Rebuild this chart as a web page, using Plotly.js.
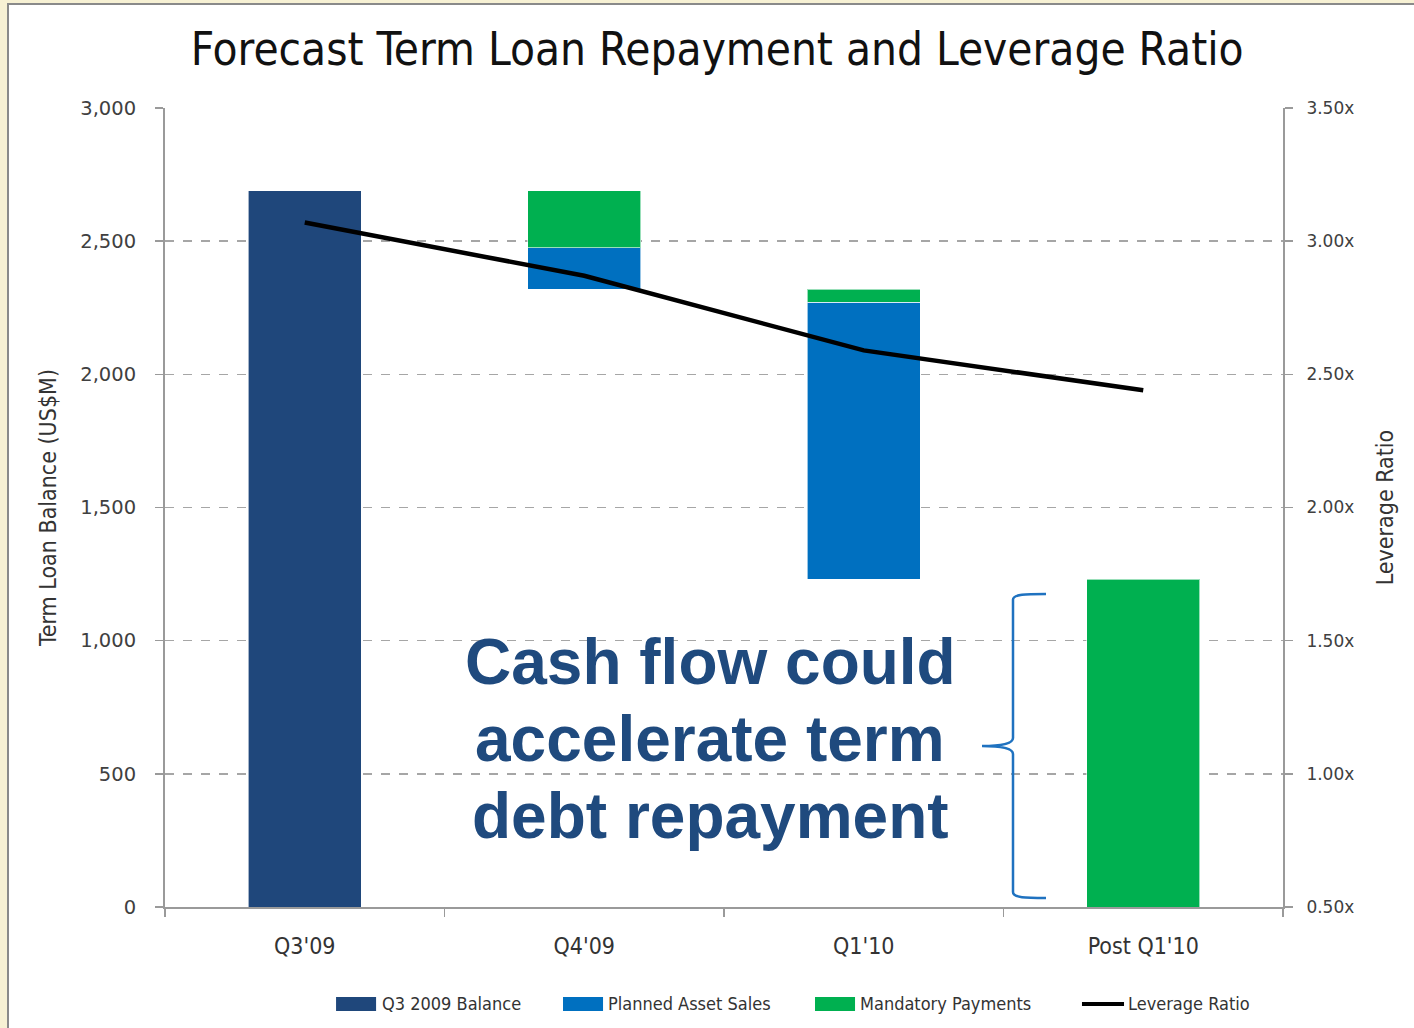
<!DOCTYPE html>
<html>
<head>
<meta charset="utf-8">
<script src="https://cdn.plot.ly/plotly-3.0.1.min.js"></script>
<style>
  html, body { margin: 0; padding: 0; background: #F7F1D4; width: 1414px; height: 1028px; overflow: hidden; }
  #wrap { position: absolute; left: 7px; top: 3px; width: 1407px; height: 1025px;
          border-left: 2px solid #8a8a8a; border-top: 2px solid #8a8a8a; background: #ffffff; }
  #chart { width: 1405px; height: 1023px; }
</style>
</head>
<body>
<div id="wrap"><div id="chart"></div></div>
<script>
// ---- data ----
const categories = ["Q3'09", "Q4'09", "Q1'10", "Post Q1'10"];
const hiddenBase = [null, 2320, 1230, null];           // floating offset for waterfall
const q3Balance = [2690, null, null, null];
const plannedAssetSales = [null, 155, 1040, null];
const mandatoryPayments = [null, 215, 50, 1230];
const leverageRatio = [3.07, 2.87, 2.59, 2.44];
const leftTicks = [0, 500, 1000, 1500, 2000, 2500, 3000];
const rightTicks = [0.5, 1.0, 1.5, 2.0, 2.5, 3.0, 3.5];
const rightTickText = ["0.50x", "1.00x", "1.50x", "2.00x", "2.50x", "3.00x", "3.50x"];
const seriesNames = ["Q3 2009 Balance", "Planned Asset Sales", "Mandatory Payments", "Leverage Ratio"];
const calloutLines = ["Cash flow could", "accelerate term", "debt repayment"];

// ---- style ----
const NAVY = "#1F477B", BLUE = "#0070C0", GREEN = "#00B050";
const NARROW = "'Liberation Sans Narrow', 'DejaVu Sans Condensed', 'Roboto', sans-serif";
const GOTHIC = "'DejaVu Sans', 'Liberation Sans', sans-serif";
const BW = 0.405;
const edge = {color: "rgba(255,255,255,0.6)", width: 1};

const traces = [
  {type: "bar", x: categories, y: hiddenBase, width: BW, marker: {color: "rgba(0,0,0,0)"}, hoverinfo: "skip", showlegend: false},
  {type: "bar", x: categories, y: q3Balance, name: seriesNames[0], width: BW, marker: {color: NAVY, line: edge}, showlegend: false},
  {type: "bar", x: categories, y: plannedAssetSales, name: seriesNames[1], width: BW, marker: {color: BLUE, line: edge}, showlegend: false},
  {type: "bar", x: categories, y: mandatoryPayments, name: seriesNames[2], width: BW, marker: {color: GREEN, line: edge}, showlegend: false},
  {type: "scatter", mode: "lines", x: categories, y: leverageRatio, yaxis: "y2", name: seriesNames[3],
   line: {color: "#000000", width: 4.5}, showlegend: false}
];

// custom legend (wide swatches like the original)
const legendColors = [NAVY, BLUE, GREEN, "#000000"];
const swatchX = [0.1530, 0.3560, 0.5814, 0.8202];
const labelX = [0.1932, 0.3953, 0.6208, 0.8605];
const shapes = [];
const annotations = [];
seriesNames.forEach((nm, i) => {
  if (i < 3) {
    shapes.push({type: "rect", xref: "paper", yref: "paper", x0: swatchX[i], x1: swatchX[i] + 0.0358,
      y0: -0.1302, y1: -0.1126, fillcolor: legendColors[i], line: {width: 0}});
  } else {
    shapes.push({type: "line", xref: "paper", yref: "paper", x0: swatchX[i], x1: swatchX[i] + 0.0376,
      y0: -0.1214, y1: -0.1214, line: {color: legendColors[i], width: 4}});
  }
  annotations.push({xref: "paper", yref: "paper", x: labelX[i], y: -0.1214, xanchor: "left", yanchor: "middle",
    text: nm, showarrow: false, borderpad: 0, font: {family: NARROW, size: 18, color: "#333333"}});
});

// callout text
const calloutY = [0.3066, 0.2103, 0.1139];
calloutLines.forEach((t, i) => {
  annotations.push({xref: "paper", yref: "paper", x: 0.4875, y: calloutY[i], xanchor: "center", yanchor: "middle",
    text: "<b>" + t + "</b>", showarrow: false, font: {family: "'Liberation Sans', Arial, sans-serif", size: 64, color: "#1F4A7E"}});
});

// curly brace
shapes.push({type: "path", xref: "paper", yref: "paper",
  path: "M 0.788,0.3917 C 0.770,0.3917 0.7585,0.3917 0.7585,0.3847 L 0.7585,0.2115 C 0.7585,0.2035 0.745,0.2015 0.7308,0.2015 C 0.745,0.2015 0.7585,0.1995 0.7585,0.1915 L 0.7585,0.0188 C 0.7585,0.0113 0.770,0.0113 0.788,0.0113",
  line: {color: "#1F72C0", width: 2.5}});

const axisGrey = "#9a9a9a";
const layout = {
  width: 1405, height: 1023,
  margin: {l: 156, r: 131, t: 103, b: 121},
  paper_bgcolor: "#ffffff", plot_bgcolor: "#ffffff",
  barmode: "stack",
  showlegend: false,
  title: {text: "Forecast Term Loan Repayment and Leverage Ratio", x: 0.504, xanchor: "center",
          y: 0.957, yanchor: "middle", yref: "container",
          font: {family: NARROW, size: 45.5, color: "#111111"}},
  xaxis: {type: "category", categoryorder: "array", categoryarray: categories, range: [-0.5, 3.5],
          tickson: "boundaries", ticks: "outside", ticklen: 8, tickwidth: 1.5, tickcolor: axisGrey,
          showline: true, linecolor: axisGrey, linewidth: 2, showgrid: false, zeroline: false,
          ticklabelstandoff: 17,
          tickfont: {family: NARROW, size: 23, color: "#333333"}},
  yaxis: {range: [0, 3000], tickvals: leftTicks, tickformat: ",", ticks: "outside", ticklen: 8, tickwidth: 1.5,
          tickcolor: axisGrey, showline: true, linecolor: axisGrey, linewidth: 2,
          showgrid: true, gridcolor: "#a6a6a6", griddash: "dash", gridwidth: 1.5, zeroline: false,
          ticklabelstandoff: 15,
          tickfont: {family: GOTHIC, size: 19.5, color: "#404040"},
          title: {text: "Term Loan Balance (US$M)", standoff: 17, font: {family: NARROW, size: 23, color: "#333333"}}},
  yaxis2: {range: [0.5, 3.5], tickvals: rightTicks, ticktext: rightTickText, overlaying: "y", side: "right",
          ticks: "outside", ticklen: 8, tickwidth: 1.5, tickcolor: axisGrey, showline: true, linecolor: axisGrey,
          linewidth: 2, showgrid: false, zeroline: false, ticklabelstandoff: 10,
          tickfont: {family: GOTHIC, size: 17, color: "#404040"},
          title: {text: "Leverage Ratio", standoff: 24, font: {family: NARROW, size: 23, color: "#333333"}}},
  shapes: shapes,
  annotations: annotations
};

Plotly.newPlot("chart", traces, layout, {displayModeBar: false, staticPlot: true});
</script>
</body>
</html>
